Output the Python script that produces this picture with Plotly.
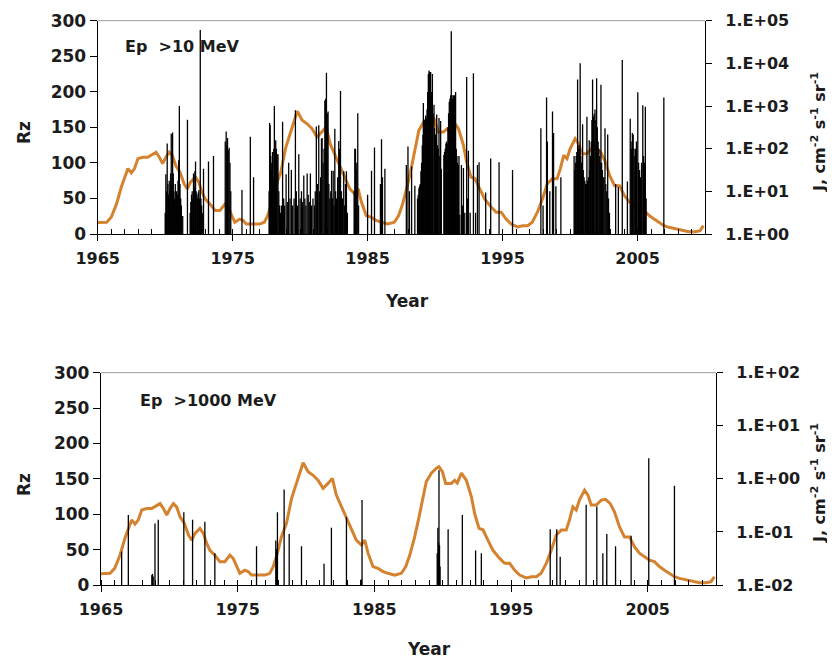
import plotly.graph_objects as go

W, H = 835, 662          # browser window
OFF = 8                  # default page margin of the html body
FW, FH = W - OFF, H - OFF

# ---------------- data ----------------
# smoothed sunspot number Rz
rz_years = [1965.0, 1965.3, 1965.66, 1966.0, 1966.39, 1966.75, 1967.0, 1967.24, 1967.49, 1967.73,
            1967.98, 1968.35, 1968.71, 1969.08, 1969.32, 1969.57, 1969.81, 1970.05, 1970.3, 1970.54,
            1970.79, 1971.1, 1971.4, 1971.64, 1971.88, 1972.24, 1972.49, 1972.73, 1972.97, 1973.33,
            1973.7, 1974.06, 1974.43, 1974.67, 1974.91, 1975.16, 1975.52, 1975.77, 1976.01, 1976.5,
            1976.99, 1977.35, 1977.6, 1977.91, 1978.2, 1978.57, 1978.94, 1979.18, 1979.47, 1979.79,
            1980.15, 1980.52, 1980.88, 1981.25, 1981.61, 1981.93, 1982.22, 1982.59, 1982.95, 1983.32,
            1983.68, 1984.05, 1984.3, 1984.54, 1984.9, 1985.27, 1985.64, 1986.0, 1986.49, 1986.98,
            1987.3, 1987.59, 1987.95, 1988.27, 1988.56, 1988.8, 1989.17, 1989.54, 1989.73, 1989.98,
            1990.22, 1990.63, 1990.88, 1991.07, 1991.37, 1991.73, 1992.1, 1992.34, 1992.66, 1992.95,
            1993.31, 1993.68, 1994.17, 1994.53, 1994.9, 1995.26, 1995.63, 1996.11, 1996.5, 1996.85,
            1997.2, 1997.58, 1997.95, 1998.31, 1998.68, 1999.04, 1999.28, 1999.53, 1999.77, 2000.01,
            2000.38, 2000.63, 2000.87, 2001.24, 2001.6, 2001.92, 2002.26, 2002.57, 2002.94, 2003.3,
            2003.67, 2004.03, 2004.4, 2004.76, 2005.13, 2005.49, 2005.86, 2006.23, 2006.6, 2006.96,
            2007.33, 2007.82, 2008.3, 2008.79, 2009.28, 2009.64, 2009.88]
rz_values = [16, 16, 16.5, 23.5, 42, 66, 80, 92, 86, 92,
             106, 108, 108, 113, 115, 108, 99, 108, 115, 110,
             96, 87, 70.6, 63.5, 73, 80, 73, 59, 49, 42,
             33, 33, 42, 37.6, 26, 16.5, 21, 19, 14, 14,
             14, 16.5, 26, 45, 68, 87, 122, 136.5, 153, 172.7,
             160, 155, 148, 136.5, 143.6, 150.6, 127, 110.5, 94, 80,
             63.5, 56.5, 63.5, 45, 26, 23.5, 19, 16.5, 14, 16.5,
             26, 42, 68, 96, 125, 146, 158, 165, 167, 160,
             143.6, 143.6, 148, 144, 158, 148, 125, 101, 80, 78,
             63.5, 49, 37.6, 30.6, 30.6, 21, 14, 10, 11.7, 11.7,
             16.5, 30.6, 49, 70.6, 77.6, 77.6, 92, 110.5, 106, 120,
             134, 127, 113, 113, 120, 121, 115, 103.5, 82, 68,
             68, 54, 45, 40, 35, 33, 26, 21, 16.5, 11.7,
             9.4, 7, 4.7, 3.3, 3.3, 4.7, 11.7]

# proton events Ep > 10 MeV: year and log10 of peak flux J (cm-2 s-1 sr-1)
p10_years = [1970.00, 1970.05, 1970.10, 1970.15, 1970.20, 1970.25, 1970.30, 1970.35, 1970.40, 1970.45,
             1970.50, 1970.55, 1970.60, 1970.65, 1970.70, 1970.75, 1970.80, 1970.85, 1970.90, 1970.95,
             1971.00, 1971.05, 1971.10, 1971.15, 1971.20, 1971.30, 1971.65,
             1971.85, 1971.90, 1971.95, 1972.00, 1972.05, 1972.10, 1972.15, 1972.20, 1972.25, 1972.30,
             1972.35, 1972.40, 1972.45, 1972.50, 1972.55, 1972.60, 1972.65, 1972.70, 1972.75, 1972.84,
             1973.21, 1973.58,
             1974.45, 1974.52, 1974.57, 1974.62, 1974.67, 1974.74, 1974.80, 1974.86, 1975.69, 1976.31, 1976.55,
             1977.70, 1977.74, 1977.78, 1977.82, 1977.86, 1977.90, 1977.95, 1978.00, 1978.05, 1978.09,
             1978.14, 1978.19, 1978.24, 1978.30, 1978.36, 1978.42, 1978.48, 1978.55, 1978.62, 1978.70,
             1978.78, 1978.85, 1978.96, 1979.05, 1979.15, 1979.25, 1979.35, 1979.45, 1979.55, 1979.65,
             1979.72, 1979.80, 1979.90, 1980.00, 1980.10, 1980.18, 1980.27, 1980.35, 1980.43, 1980.52,
             1980.60, 1980.68, 1980.76, 1980.85, 1980.95, 1981.05, 1981.12, 1981.20, 1981.28, 1981.38,
             1981.45, 1981.52, 1981.58, 1981.63, 1981.70, 1981.77, 1981.83, 1981.89, 1981.95, 1982.01,
             1982.07, 1982.13, 1982.20, 1982.27, 1982.33, 1982.39, 1982.45, 1982.51, 1982.57, 1982.63,
             1982.70, 1982.78, 1982.86, 1982.92, 1982.99, 1983.06, 1983.13, 1983.23, 1983.30, 1983.36,
             1983.43, 1983.50, 1984.00, 1984.05, 1984.10, 1984.15, 1984.20, 1984.27, 1984.33,
             1985.00, 1985.29, 1985.51, 1985.95, 1986.03, 1986.10, 1986.28,
             1987.87, 1987.99, 1988.10, 1988.26, 1988.50, 1988.70, 1988.75, 1988.80, 1988.85, 1988.90,
             1988.95, 1989.00, 1989.05, 1989.10, 1989.13, 1989.18, 1989.23, 1989.30, 1989.35, 1989.40,
             1989.45, 1989.50, 1989.55, 1989.60, 1989.67, 1989.72, 1989.80, 1989.85, 1989.92, 1989.97,
             1990.03, 1990.08, 1990.12, 1990.18, 1990.23, 1990.29, 1990.35, 1990.41, 1990.46,
             1990.65, 1990.70, 1990.75, 1990.80, 1990.85, 1990.90, 1990.95, 1991.00, 1991.05, 1991.10,
             1991.15, 1991.20, 1991.25, 1991.30, 1991.35, 1991.40, 1991.45, 1991.52, 1991.57, 1991.62,
             1991.67, 1991.72, 1991.77, 1991.83, 1991.95, 1992.02, 1992.10, 1992.20, 1992.34, 1992.40,
             1992.47, 1992.60, 1992.84, 1993.00, 1993.14, 1993.26, 1993.75, 1994.12, 1994.74, 1995.74,
             1997.84, 1998.00, 1998.26, 1998.32, 1998.50, 1998.70, 1998.78, 1998.95, 1999.32,
             2000.30, 2000.35, 2000.40, 2000.45, 2000.50, 2000.56, 2000.61, 2000.66, 2000.71, 2000.75,
             2000.80, 2000.86, 2000.93, 2000.98, 2001.04, 2001.10, 2001.16, 2001.20, 2001.25, 2001.30,
             2001.36, 2001.42, 2001.47, 2001.52, 2001.57, 2001.62, 2001.67, 2001.73, 2001.79, 2001.85,
             2001.91, 2001.97, 2002.02, 2002.08, 2002.14, 2002.20, 2002.24, 2002.29, 2002.34, 2002.40,
             2002.46, 2002.52, 2002.59, 2002.65, 2002.72, 2002.79, 2002.85, 2002.92,
             2003.38, 2003.58, 2003.87, 2004.25, 2004.46, 2004.52, 2004.57, 2004.62, 2004.68, 2004.74,
             2004.80, 2004.86, 2004.92, 2005.02, 2005.08, 2005.15, 2005.22, 2005.30, 2005.39, 2005.45,
             2005.52, 2005.58, 2005.64, 2006.95]
p10_logJ = [0.50, 1.40, 1.00, 2.12, 1.17, 0.92, 1.25, 1.00, 1.42, 2.35,
            1.17, 2.38, 1.42, 1.00, 0.83, 1.17, 0.75, 1.00, 0.92, 1.25,
            1.73, 3.00, 1.17, 0.83, 0.67, 0.42, 2.68,
            0.50, 0.75, 0.92, 1.00, 0.83, 1.42, 1.08, 1.47, 1.70, 1.00,
            0.92, 0.83, 0.97, 1.03, 0.83, 4.78, 0.83, 0.67, 0.50, 1.53,
            1.70, 1.83,
            2.17, 2.40, 2.08, 2.25, 1.97, 2.02, 1.67, 1.00, 1.03, 2.28, 1.33,
            1.00, 2.60, 2.55, 1.83, 1.50, 1.67, 1.92, 1.33, 2.00, 3.00,
            1.93, 2.20, 2.00, 1.87, 1.87, 1.00, 0.67, 0.50, 0.67, 2.63,
            0.83, 0.67, 1.40, 0.75, 1.67, 0.83, 1.50, 0.67, 0.83, 2.90,
            1.00, 0.67, 1.87, 0.83, 1.00, 0.75, 1.37, 0.83, 0.67, 1.42,
            0.92, 0.75, 1.42, 0.67, 0.83, 0.67, 1.00, 2.52, 1.17, 2.55,
            1.00, 1.33, 2.23, 2.25, 1.67, 2.00, 3.13, 3.17, 3.78, 2.83,
            2.87, 1.17, 0.83, 1.00, 1.48, 0.83, 1.48, 0.67, 2.47, 1.00,
            0.83, 1.33, 2.18, 2.00, 3.35, 1.00, 0.83, 1.47, 0.67, 1.17,
            1.47, 0.50, 1.00, 2.00, 2.00, 1.50, 1.67, 2.83, 0.67,
            0.92, 1.48, 2.03, 1.17, 2.22, 1.33, 1.53,
            1.62, 2.05, 1.00, 1.58, 1.13, 0.83, 0.92, 1.07, 1.13, 1.17,
            1.47, 1.67, 2.08, 2.32, 3.07, 2.50, 2.67, 2.78, 2.72, 2.92,
            3.33, 3.75, 3.83, 3.80, 3.80, 3.33, 3.75, 2.83, 3.03, 2.48,
            2.33, 2.25, 2.80, 2.08, 2.00, 2.72, 1.83, 2.65, 1.53,
            1.85, 1.92, 2.00, 2.12, 2.17, 2.12, 2.50, 2.83, 3.10, 3.17,
            3.25, 4.75, 3.25, 3.17, 3.25, 3.00, 3.25, 3.33, 2.00, 1.83,
            1.67, 1.62, 1.83, 0.45, 1.62, 0.67, 1.55, 0.50, 3.68, 0.83,
            1.95, 0.50, 3.77, 0.50, 1.62, 1.68, 0.97, 1.77, 1.68, 1.50,
            2.48, 0.67, 3.20, 2.17, 1.00, 2.87, 2.37, 1.12, 1.33,
            1.83, 1.50, 1.67, 1.83, 1.92, 3.62, 2.00, 2.08, 2.00, 4.00,
            1.83, 1.67, 2.57, 1.50, 1.33, 1.25, 1.17, 1.17, 2.75, 1.25,
            1.33, 2.20, 1.50, 1.83, 2.17, 2.67, 3.62, 2.75, 2.82, 2.92,
            2.67, 3.65, 2.50, 2.17, 2.00, 1.83, 1.67, 3.50, 1.67, 1.50,
            1.33, 1.33, 2.48, 1.17, 1.00, 2.33, 0.83, 0.50,
            1.17, 1.10, 4.08, 1.23, 2.70, 2.17, 2.00, 2.37, 2.33, 2.00,
            1.83, 2.00, 2.17, 3.32, 1.67, 1.50, 1.33, 1.67, 3.02, 1.83,
            1.67, 2.98, 0.83, 3.20]

# proton events Ep > 1000 MeV: year and log10 of peak flux J
p1000_years = [1966.51, 1967.00, 1968.72, 1968.77, 1968.82, 1968.95, 1969.19, 1971.06, 1971.70, 1972.60,
               1973.33, 1976.38, 1977.79, 1977.84, 1977.91, 1978.40, 1978.77, 1979.67, 1981.32, 1981.86,
               1982.96, 1984.05, 1984.10, 1989.60, 1989.65, 1989.70, 1989.73, 1989.77, 1989.81, 1990.40,
               1991.44, 1992.41, 1992.83, 1997.87, 1998.35, 1998.60, 2000.50, 2001.28, 2001.72, 2002.01,
               2002.65, 2003.79, 2005.08, 2006.96]
p1000_logJ = [-1.37, -0.68, -1.81, -1.79, -1.84, -0.84, -0.77, -0.63, -0.77, -0.81,
              -1.40, -1.27, -1.16, -1.32, -0.63, -0.20, -1.04, -1.27, -1.60, -0.92,
              -0.72, -1.89, -0.40, -1.40, -0.92, -1.20, 0.16, -1.25, -1.65, -0.95,
              -0.68, -1.35, -1.40, -0.95, -0.95, -1.47, -0.49, -0.52, -1.40, -1.04,
              -1.27, -1.07, 0.39, -0.13]

year_ticks = [1965, 1975, 1985, 1995, 2005]
rz_ticks = [0, 50, 100, 150, 200, 250, 300]
top_J_ticks = [1e0, 1e1, 1e2, 1e3, 1e4, 1e5]
top_J_labels = ["1.E+00", "1.E+01", "1.E+02", "1.E+03", "1.E+04", "1.E+05"]
bot_J_ticks = [1e-2, 1e-1, 1e0, 1e1, 1e2]
bot_J_labels = ["1.E-02", "1.E-01", "1.E+00", "1.E+01", "1.E+02"]

# ---------------- helpers (window pixels -> paper fractions) ----------------
def px(x):
    return (x - OFF) / FW

def py(y):
    return 1 - (y - OFF) / FH

def spikes(years, logs, base):
    xs, ys = [], []
    for yr, lg in zip(years, logs):
        xs += [yr, yr, None]
        ys += [base, 10 ** lg, None]
    return xs, ys

ORANGE = "#d5822f"
TXT = "#1c1c1c"
FONT = "DejaVu Sans"
tickfont = dict(family=FONT, size=16, color=TXT, weight="bold")
lefttickfont = dict(family=FONT, size=17, color=TXT, weight="bold")

fig = go.Figure()

# top panel
fig.add_trace(go.Scatter(x=rz_years, y=rz_values, mode="lines",
                         line=dict(color=ORANGE, width=3), xaxis="x", yaxis="y",
                         showlegend=False, hoverinfo="skip"))
sx, sy = spikes(p10_years, p10_logJ, 1.0)
fig.add_trace(go.Scatter(x=sx, y=sy, mode="lines", line=dict(color="black", width=1.3),
                         xaxis="x", yaxis="y2", showlegend=False, hoverinfo="skip"))
# bottom panel
fig.add_trace(go.Scatter(x=rz_years, y=rz_values, mode="lines",
                         line=dict(color=ORANGE, width=3), xaxis="x2", yaxis="y3",
                         showlegend=False, hoverinfo="skip"))
sx, sy = spikes(p1000_years, p1000_logJ, 0.01)
fig.add_trace(go.Scatter(x=sx, y=sy, mode="lines", line=dict(color="black", width=1.3),
                         xaxis="x2", yaxis="y4", showlegend=False, hoverinfo="skip"))

top_dom_x = [px(97.7), px(705)]
bot_dom_x = [px(101), px(716)]
top_dom_y = [py(234), py(20.7)]
bot_dom_y = [py(585), py(372.7)]

def xaxis(dom, anchor):
    return dict(domain=dom, anchor=anchor, range=[1965, 2010], tickvals=year_ticks,
                ticks="outside", ticklen=6, tickwidth=1.3, tickcolor="black",
                showline=True, linecolor="black", linewidth=1.3, showgrid=False, zeroline=False,
                tickfont=tickfont, ticklabelstandoff=4, automargin=False,
                minor=dict(dtick=1, tick0=1965, ticks="inside", ticklen=5, tickwidth=1.1,
                           tickcolor="black", showgrid=False))

def xinner(overlay, anchor):
    # inner half of the crossing major ticks
    return dict(overlaying=overlay, anchor=anchor, range=[1965, 2010], tickvals=year_ticks,
                ticks="inside", ticklen=5, tickwidth=1.3, tickcolor="black",
                showticklabels=False, showline=False, showgrid=False, zeroline=False,
                automargin=False)

def yleft(dom, anchor):
    return dict(domain=dom, anchor=anchor, range=[0, 300], tickvals=rz_ticks,
                ticks="outside", ticklen=7, tickwidth=1.3, tickcolor="black",
                showline=True, linecolor="black", linewidth=1.3, showgrid=False, zeroline=False,
                tickfont=lefttickfont, automargin=False)

def yright(overlay, anchor, rng, tv, tt):
    return dict(overlaying=overlay, anchor=anchor, side="right", type="log", range=rng,
                tickvals=tv, ticktext=tt, ticks="outside", ticklen=6, tickwidth=1.3,
                tickcolor="black", showline=True, linecolor="black", linewidth=1.3,
                showgrid=False, zeroline=False, tickfont=tickfont, ticklabelstandoff=10,
                automargin=False)

def yright_inner(overlay, anchor, rng, tv):
    return dict(overlaying=overlay, anchor=anchor, side="right", type="log", range=rng,
                tickvals=tv, ticks="inside", ticklen=7, tickwidth=1.3, tickcolor="black",
                showticklabels=False, showline=False, showgrid=False, zeroline=False,
                automargin=False)

fig.update_layout(
    width=FW, height=FH, autosize=False,
    margin=dict(l=0, r=0, t=0, b=0, autoexpand=False),
    paper_bgcolor="white", plot_bgcolor="white",
    xaxis=xaxis(top_dom_x, "y"),
    yaxis=yleft(top_dom_y, "x"),
    yaxis2=yright("y", "x", [0, 5], top_J_ticks, top_J_labels),
    xaxis2=xaxis(bot_dom_x, "y3"),
    yaxis3=yleft(bot_dom_y, "x2"),
    yaxis4=yright("y3", "x2", [-2, 2], bot_J_ticks, bot_J_labels),
    xaxis3=xinner("x", "y"),
    xaxis4=xinner("x2", "y3"),
    yaxis5=yright_inner("y", "x", [0, 5], top_J_ticks),
    yaxis6=yright_inner("y3", "x2", [-2, 2], bot_J_ticks),
)

# thin grey frame line on top of each plot area
for xr, yr in (("x domain", "y domain"), ("x2 domain", "y3 domain")):
    fig.add_shape(type="line", xref=xr, yref=yr, x0=0, x1=1, y0=1, y1=1,
                  line=dict(color="#9a9a9a", width=1))

titlefont = dict(family=FONT, size=17, color=TXT, weight="bold")
jfont = dict(family=FONT, size=16, color=TXT, weight="bold")
labfont = dict(family=FONT, size=16, color=TXT, weight="bold")
jtitle = "J, cm<sup>-2</sup> s<sup>-1</sup> sr<sup>-1</sup>"
ann = [
    dict(text="Ep  >10 MeV", x=px(123), y=py(47), xanchor="left", font=labfont),
    dict(text="Ep  >1000 MeV", x=px(138), y=py(401), xanchor="left", font=labfont),
    dict(text="Rz", x=px(24), y=py(133), textangle=-90, font=titlefont),
    dict(text="Rz", x=px(24), y=py(485), textangle=-90, font=titlefont),
    dict(text=jtitle, x=px(818), y=py(132), textangle=-90, font=jfont),
    dict(text=jtitle, x=px(818), y=py(483), textangle=-90, font=jfont),
    dict(text="Year", x=px(407), y=py(301), font=titlefont),
    dict(text="Year", x=px(429), y=py(649), font=titlefont),
]
for a in ann:
    a.setdefault("xanchor", "center")
    a.update(xref="paper", yref="paper", showarrow=False, yanchor="middle")
    fig.add_annotation(**a)

fig.write_html("out.html")
